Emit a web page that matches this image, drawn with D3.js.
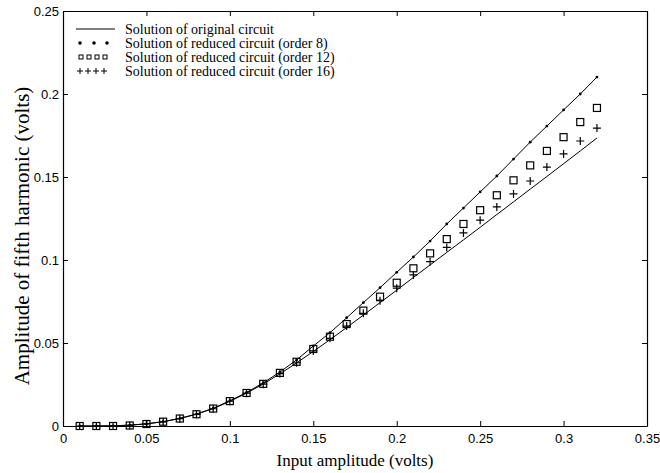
<!DOCTYPE html>
<html>
<head>
<meta charset="utf-8">
<script src="https://cdn.jsdelivr.net/npm/d3@7"></script>
<style>
  body { margin: 0; background: #fff; }
  svg { display: block; }
</style>
</head>
<body>
<svg id="chart"></svg>
<script>
(function fifthHarmonic() {
  // input amplitude, volts
  const amplitude = d3.range(1, 33).map((i) => i / 100);

  const original = [
    0, 0, 0.0001, 0.0005, 0.0013, 0.0026, 0.0045, 0.0071, 0.0105, 0.0148,
    0.0198, 0.0253, 0.0314, 0.038, 0.0449, 0.052, 0.0593, 0.0668, 0.0743,
    0.0818, 0.0895, 0.097, 0.1046, 0.1121, 0.1197, 0.1274, 0.135, 0.1427,
    0.1503, 0.158, 0.1657, 0.1735,
  ];
  const order8 = [
    0, 0, 0.0001, 0.0005, 0.0013, 0.0026, 0.0046, 0.0072, 0.0107, 0.0152,
    0.0202, 0.026, 0.0325, 0.0398, 0.0482, 0.0562, 0.0652, 0.0743, 0.0833,
    0.0926, 0.1018, 0.1114, 0.1217, 0.1313, 0.141, 0.1506, 0.1608, 0.171,
    0.1807, 0.1904, 0.2, 0.2102,
  ];
  const order12 = [
    0, 0, 0, 0.0003, 0.0012, 0.0026, 0.0045, 0.0071, 0.0105, 0.015, 0.0199,
    0.0254, 0.032, 0.0387, 0.0464, 0.0538, 0.0614, 0.0695, 0.0779, 0.0863,
    0.095, 0.104, 0.1126, 0.1217, 0.13, 0.139, 0.148, 0.157, 0.1657, 0.174,
    0.1831, 0.1916,
  ];
  const order16 = [
    0, 0, 0, 0.0003, 0.0012, 0.0025, 0.0044, 0.007, 0.0104, 0.0149, 0.0198,
    0.0252, 0.0316, 0.0381, 0.0452, 0.0528, 0.0602, 0.0679, 0.0755, 0.083,
    0.091, 0.099, 0.1076, 0.1163, 0.124, 0.132, 0.1398, 0.1476, 0.156,
    0.1639, 0.1717, 0.1795,
  ];

  const xTicks = [0, 0.05, 0.1, 0.15, 0.2, 0.25, 0.3, 0.35];
  const yTicks = [0, 0.05, 0.1, 0.15, 0.2, 0.25];
  const legendLabels = [
    "Solution of original circuit",
    "Solution of reduced circuit (order 8)",
    "Solution of reduced circuit (order 12)",
    "Solution of reduced circuit (order 16)",
  ];

  const width = 660;
  const height = 473;
  const margin = { top: 11, right: 13, bottom: 47, left: 63 };

  const svg = d3.select("#chart").attr("width", width).attr("height", height);

  const x = d3
    .scaleLinear()
    .domain([0, 0.35])
    .range([margin.left, width - margin.right]);
  const y = d3
    .scaleLinear()
    .domain([0, 0.25])
    .range([height - margin.bottom, margin.top]);

  const tickFont = "'Liberation Sans', Arial, sans-serif";
  const serif = "'Liberation Serif', 'Times New Roman', serif";
  const fmt = (d) => (d === 0 ? "0" : String(d));

  // axes, matlab style: ticks pointing inwards on all four sides
  const axes = [
    d3.axisBottom(x).tickValues(xTicks).tickFormat(fmt).tickPadding(8),
    d3.axisTop(x).tickValues(xTicks).tickFormat(""),
    d3.axisLeft(y).tickValues(yTicks).tickFormat(fmt).tickPadding(4),
    d3.axisRight(y).tickValues(yTicks).tickFormat(""),
  ];
  const shifts = [
    `translate(0,${y(0)})`,
    `translate(0,${y(0.25)})`,
    `translate(${x(0)},0)`,
    `translate(${x(0.35)},0)`,
  ];
  axes.forEach((ax, i) => {
    const g = svg
      .append("g")
      .attr("transform", shifts[i])
      .call(ax.tickSizeInner(-5).tickSizeOuter(0));
    g.select(".domain").attr("stroke", "#000").attr("stroke-width", 1.2);
    g.selectAll(".tick line").attr("stroke", "#000");
    g.selectAll("text")
      .style("font-family", tickFont)
      .style("font-size", "13px")
      .attr("fill", "#000");
  });

  svg
    .append("text")
    .attr("x", (x(0) + x(0.35)) / 2)
    .attr("y", 466)
    .attr("text-anchor", "middle")
    .style("font-family", serif)
    .style("font-size", "17px")
    .text("Input amplitude (volts)");

  svg
    .append("text")
    .attr("transform", "translate(29,236) rotate(-90)")
    .attr("text-anchor", "middle")
    .style("font-family", serif)
    .style("font-size", "21px")
    .text("Amplitude of fifth harmonic (volts)");

  const line = d3
    .line()
    .x((d, i) => x(amplitude[i]))
    .y((d) => y(d));

  const plot = svg.append("g");

  [original, order8].forEach((series) => {
    plot
      .append("path")
      .datum(series)
      .attr("d", line)
      .attr("fill", "none")
      .attr("stroke", "#000")
      .attr("stroke-width", 1);
  });

  plot
    .selectAll("circle.o8")
    .data(order8)
    .join("circle")
    .attr("class", "o8")
    .attr("cx", (d, i) => x(amplitude[i]))
    .attr("cy", (d) => y(d))
    .attr("r", 1.4)
    .attr("fill", "#000");

  const sq = 7;
  plot
    .selectAll("rect.o12")
    .data(order12)
    .join("rect")
    .attr("class", "o12")
    .attr("x", (d, i) => x(amplitude[i]) - sq / 2)
    .attr("y", (d) => y(d) - sq / 2)
    .attr("width", sq)
    .attr("height", sq)
    .attr("fill", "none")
    .attr("stroke", "#000")
    .attr("stroke-width", 1.2);

  const plus = (cx, cy, s) =>
    `M${cx - s},${cy}H${cx + s}M${cx},${cy - s}V${cy + s}`;
  plot
    .selectAll("path.o16")
    .data(order16)
    .join("path")
    .attr("class", "o16")
    .attr("d", (d, i) => plus(x(amplitude[i]), y(d), 4))
    .attr("stroke", "#000")
    .attr("stroke-width", 1.2);

  // legend
  const legend = svg.append("g");
  const rowY = (i) => 29 + i * 14;
  legend
    .selectAll("text")
    .data(legendLabels)
    .join("text")
    .attr("x", 125)
    .attr("y", (d, i) => rowY(i))
    .attr("dy", "0.35em")
    .style("font-family", serif)
    .style("font-size", "14px")
    .text((d) => d);

  legend
    .append("line")
    .attr("x1", 76)
    .attr("x2", 115)
    .attr("y1", rowY(0))
    .attr("y2", rowY(0))
    .attr("stroke", "#000")
    .attr("stroke-width", 1.2);

  legend
    .selectAll("circle")
    .data([80, 94, 107])
    .join("circle")
    .attr("cx", (d) => d)
    .attr("cy", rowY(1))
    .attr("r", 1.8)
    .attr("fill", "#000");

  legend
    .selectAll("rect")
    .data([81, 89, 97, 105])
    .join("rect")
    .attr("x", (d) => d - 2)
    .attr("y", rowY(2) - 2)
    .attr("width", 4)
    .attr("height", 4)
    .attr("fill", "none")
    .attr("stroke", "#000")
    .attr("stroke-width", 1);

  legend
    .selectAll("path")
    .data([80, 88, 96, 104])
    .join("path")
    .attr("d", (d) => plus(d, rowY(3), 3))
    .attr("stroke", "#000")
    .attr("stroke-width", 1);
})();
</script>
</body>
</html>
